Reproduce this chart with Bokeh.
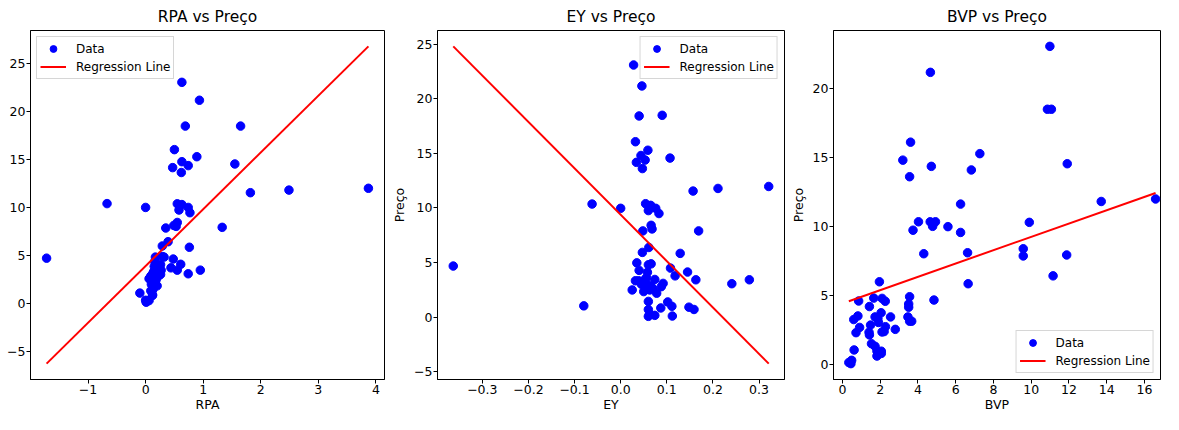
from bokeh.plotting import figure
from bokeh.layouts import row
from bokeh.models import (Range1d, FixedTicker, CustomJSTickFormatter, Legend, LegendItem)
from bokeh.embed import file_html
from bokeh.resources import INLINE

# ---------------- data ----------------
rpa = [0.63, 0.935, 0.69, 1.65, 0.50, 0.89, 0.63, 1.55, 0.74, 0.47, 0.62, 1.82, 2.49, 3.87,
       -0.67, 0.0, 0.55, 0.63, 0.58, 0.74, 0.77,
       0.55, 0.49, 0.53, 0.35, 1.33,
       0.39, 0.29, 0.76,
       -1.72,
       0.17, 0.32, 0.48, 0.61, 0.44, 0.55, 0.74, 0.95,
       0.16, 0.23, 0.17, 0.27, 0.13, 0.21, 0.26, 0.06, 0.16, 0.10, 0.13, 0.12, 0.01, 0.0, -0.10,
       0.26, 0.145, 0.23, 0.09, 0.17, 0.12, 0.20, 0.09, 0.12, 0.02, 0.06, 0.15, 0.29, 0.22, 0.18]
preco_rpa = [23.07, 21.2, 18.5, 18.5, 16.04, 15.3, 14.78, 14.54, 14.37, 14.16, 13.65, 11.54, 11.81, 12.0,
             10.4, 10.0, 10.38, 10.3, 9.73, 10.0, 9.45,
             8.43, 8.12, 8.02, 7.85, 7.92,
             6.42, 5.97, 5.84,
             4.7,
             4.81, 4.81, 4.61, 4.06, 3.69, 3.45, 3.07, 3.45,
             4.36, 3.85, 3.5, 3.44, 3.17, 3.1, 3.0, 2.56, 2.66, 1.97, 1.46, 0.88, 0.1, 0.3, 1.05,
             4.02, 3.34, 3.34, 2.83, 2.55, 2.15, 1.81, 1.29, 0.8, 0.17, 0.27, 3.85, 4.87, 2.8, 2.4]

ey = [-0.363, -0.062, -0.080, 0.0, 0.028, 0.046, 0.040, 0.090, 0.032, 0.059, 0.044, 0.034, 0.053, 0.047,
      0.107, 0.157, 0.211, 0.321,
      0.054, 0.065, 0.060, 0.076, 0.083, 0.066, 0.068, 0.048, 0.169, 0.061,
      0.047, 0.129, 0.035, 0.060, 0.066, 0.040, 0.058, 0.108, 0.145, 0.118, 0.163, 0.241, 0.279,
      0.032, 0.039, 0.053, 0.074, 0.092, 0.088, 0.025, 0.050, 0.063, 0.065, 0.057, 0.078, 0.060,
      0.102, 0.111, 0.087, 0.060, 0.063, 0.074, 0.060, 0.112, 0.148, 0.159, 0.070, 0.045, 0.056]
preco_ey = [4.67, 10.35, 1.02, 9.96, 23.09, 21.17, 18.42, 18.48, 16.06, 15.28, 14.8, 14.17, 14.38, 13.6,
            14.56, 11.54, 11.78, 11.96,
            10.38, 10.23, 9.75, 9.96, 9.48, 8.4, 8.07, 7.89, 7.89, 6.37,
            5.92, 5.83, 4.96, 4.78, 4.87, 4.27, 4.1, 4.48, 4.12, 3.77, 3.41, 3.05, 3.41,
            3.32, 3.32, 3.46, 3.44, 3.08, 2.78, 2.48, 2.33, 2.48, 2.87, 2.93, 2.18, 1.43,
            1.38, 0.98, 0.83, 0.68, 0.24, 0.15, 0.06, 0.09, 0.90, 0.69, 2.6, 3.0, 3.6]

bvp = [10.99, 4.66, 10.86, 11.07, 3.61, 3.20, 4.71, 3.56, 7.28, 6.83, 11.91, 6.26, 13.71, 16.59,
       4.03, 4.65, 4.93, 4.78, 3.74, 5.59, 6.26, 9.90, 4.31, 6.63, 9.58, 9.58, 11.88, 11.16, 6.66,
       4.85, 1.96, 3.56, 3.51, 3.51, 3.47, 3.56, 3.67, 2.55, 2.80, 0.86, 1.66, 2.10, 2.27, 1.43,
       2.05, 1.73, 1.88, 1.91, 0.60, 0.82, 0.91, 0.72, 1.49, 1.41, 1.43, 2.10, 2.21, 2.28,
       1.54, 1.73, 1.83, 1.83, 2.06, 2.06, 0.62, 0.34, 0.45, 0.49]
preco_bvp = [23.04, 21.16, 18.49, 18.49, 16.11, 14.81, 14.36, 13.61, 15.28, 14.10, 14.55, 11.63, 11.82, 12.0,
             10.35, 10.35, 10.35, 10.02, 9.74, 10.0, 9.58, 10.31, 8.04, 8.11, 8.40, 7.88, 7.95, 6.44, 5.87,
             4.69, 6.01, 4.93, 4.41, 4.17, 3.47, 3.16, 3.16, 3.47, 2.57, 4.62, 4.83, 4.81, 4.60, 4.22,
             3.77, 3.47, 3.35, 3.07, 3.28, 3.54, 2.71, 2.33, 2.88, 2.36, 2.17, 2.38, 2.41, 2.76,
             1.53, 1.34, 0.99, 0.64, 0.99, 0.83, 1.08, 0.17, 0.09, 0.33]

# regression line parameters: (slope, intercept)
fit_rpa = (5.93, 3.88)
fit_ey = (-42.5, 9.37)
fit_bvp = (0.482, 4.44)

titles = ["RPA vs Preço", "EY vs Preço", "BVP vs Preço"]
xlabels = ["RPA", "EY", "BVP"]
ylabel = "Preço"
legend_labels = ["Data", "Regression Line"]

xticks_rpa = [-1, 0, 1, 2, 3, 4]
xticks_ey = [-0.3, -0.2, -0.1, 0.0, 0.1, 0.2, 0.3]
xticks_bvp = [0, 2, 4, 6, 8, 10, 12, 14, 16]
yticks_rpa = [-5, 0, 5, 10, 15, 20, 25]
yticks_ey = [-5, 0, 5, 10, 15, 20, 25]
yticks_bvp = [0, 5, 10, 15, 20]

FONT = "DejaVu Sans"
H = 414


def auto_range(vals, frac=0.05):
    lo, hi = min(vals), max(vals)
    m = (hi - lo) * frac
    return lo - m, hi + m


def fmt(digits):
    return CustomJSTickFormatter(code="return tick.toFixed(%d).replace('-', '\u2212');" % digits)


def panel(x, y, fit, title, xlabel, show_ylabel, width, left, right, xticks, yticks, xdig,
          legend_loc, x_end=None):
    slope, icpt = fit
    lx = [min(x), max(x)]
    ly = [icpt + slope * v for v in lx]
    x0, x1 = auto_range(list(x) + lx)
    y0, y1 = auto_range(list(y) + ly)
    if x_end is not None:
        x1 = x_end
    p = figure(width=width, height=H, output_backend="svg", toolbar_location=None,
               x_range=Range1d(x0, x1), y_range=Range1d(y0, y1),
               min_border_left=left, min_border_right=right,
               min_border_top=24, min_border_bottom=30, title=title)
    p.title.text_font = FONT
    p.title.text_font_size = "15.5px"
    p.title.text_font_style = "normal"
    p.title.align = "center"
    p.title.text_color = "black"
    p.title.standoff = 10
    p.xgrid.grid_line_color = None
    p.ygrid.grid_line_color = None
    p.outline_line_color = "black"
    p.outline_line_width = 1
    p.background_fill_color = "white"
    p.border_fill_color = "white"
    for ax in (p.xaxis[0], p.yaxis[0]):
        ax.axis_line_color = "black"
        ax.major_tick_line_color = "black"
        ax.major_tick_out = 4
        ax.major_tick_in = 0
        ax.minor_tick_out = 0
        ax.minor_tick_in = 0
        ax.major_label_standoff = 1
        ax.major_label_text_font = FONT
        ax.major_label_text_font_size = "12.5px"
        ax.major_label_text_color = "black"
        ax.axis_label_text_font = FONT
        ax.axis_label_text_font_size = "12.5px"
        ax.axis_label_text_font_style = "normal"
        ax.axis_label_text_color = "black"
        ax.axis_label_standoff = 0
    p.xaxis[0].ticker = FixedTicker(ticks=xticks)
    p.xaxis[0].formatter = fmt(xdig)
    p.yaxis[0].ticker = FixedTicker(ticks=yticks)
    p.yaxis[0].formatter = fmt(0)
    p.xaxis[0].axis_label = xlabel
    if show_ylabel:
        p.yaxis[0].axis_label = ylabel
        p.yaxis[0].axis_label_standoff = 4

    sc = p.scatter(x, y, size=8.5, fill_color="blue", line_color="blue")
    ln = p.line(lx, ly, line_color="red", line_width=2)

    lg = Legend(items=[LegendItem(label=legend_labels[0], renderers=[sc]),
                       LegendItem(label=legend_labels[1], renderers=[ln])],
                location=legend_loc)
    lg.label_text_font = FONT
    lg.label_text_font_size = "12px"
    lg.label_text_color = "black"
    lg.border_line_color = "#cccccc"
    lg.border_line_alpha = 0.8
    lg.background_fill_alpha = 0.8
    lg.margin = 6
    lg.padding = 3
    lg.spacing = 1
    lg.glyph_width = 26
    lg.glyph_height = 17
    lg.label_height = 17
    lg.label_standoff = 10
    p.add_layout(lg)
    return p


assert len(rpa) == len(preco_rpa)
assert len(ey) == len(preco_ey)
assert len(bvp) == len(preco_bvp)

p1 = panel(rpa, preco_rpa, fit_rpa, titles[0], xlabels[0], False, 389, 30, 5,
           xticks_rpa, yticks_rpa, 0, "top_left")
p2 = panel(ey, preco_ey, fit_ey, titles[1], xlabels[1], True, 398, 40, 3,
           xticks_ey, yticks_ey, 1, "top_right")
p3 = panel(bvp, preco_bvp, fit_bvp, titles[2], xlabels[2], True, 376, 40, 3,
           xticks_bvp, yticks_bvp, 0, "bottom_right", x_end=16.85)

layout = row(p1, p2, p3)
open("out.html", "w", encoding="utf-8").write(file_html(layout, INLINE))
